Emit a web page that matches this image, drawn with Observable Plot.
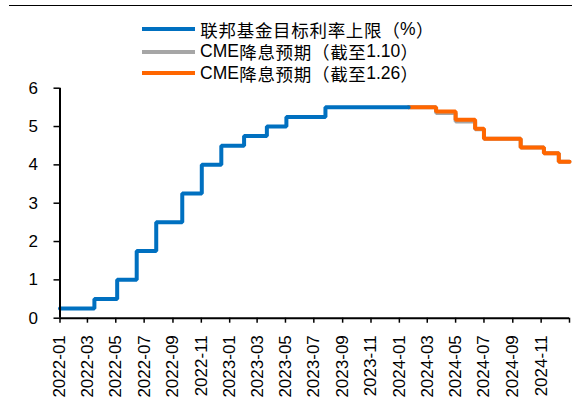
<!DOCTYPE html>
<html><head><meta charset="utf-8">
<script src="https://cdn.jsdelivr.net/npm/d3@7"></script>
<script src="https://cdn.jsdelivr.net/npm/@observablehq/plot@0.6"></script>
<style>
body{margin:0;background:#fff;}
#wrap{position:relative;width:574px;height:398px;font-family:"Liberation Sans",Arial,"Noto Sans CJK SC",sans-serif;}
#topline{position:absolute;left:9px;top:5px;width:563px;height:0;border-top:1.5px solid #000;}
#legend{position:relative;width:574px;height:80px;}
.row{position:absolute;left:142px;display:flex;align-items:center;font-size:17.5px;line-height:1;color:#000;height:18px;white-space:nowrap;}
.sw{width:53px;height:4px;margin-right:5px;flex:none;}
.lab{display:flex;align-items:center;line-height:1;}
.cj{display:inline-block;width:18.2px;text-align:center;line-height:1;font-family:"Noto Sans CJK SC",sans-serif;}
.pn{display:inline-block;width:18.2px;text-align:center;line-height:1;font-family:"Noto Sans CJK SC",sans-serif;text-spacing-trim:space-all;font-feature-settings:"halt" 0,"chws" 0,"palt" 0;}
.lt{display:inline-block;line-height:1;}
#chart svg{display:block;}
</style></head>
<body>
<div id="wrap">
  <div id="legend"><div id="topline"></div></div>
  <div id="chart"></div>
</div>
<script>
// ---- data ----
const seriesNames = ["\u8054\u90A6\u57FA\u91D1\u76EE\u6807\u5229\u7387\u4E0A\u9650\uFF08%\uFF09", "CME\u964D\u606F\u9884\u671F\uFF08\u622A\u81F31.10\uFF09", "CME\u964D\u606F\u9884\u671F\uFF08\u622A\u81F31.26\uFF09"];
const seriesColors = ["#0070C0", "#A6A6A6", "#FF6600"];

const fedDates  = ["2022-01-01","2022-03-16","2022-05-04","2022-06-15","2022-07-27","2022-09-21","2022-11-02","2022-12-14","2023-02-01","2023-03-22","2023-05-03","2023-07-26","2024-01-21"];
const fedValues = [0.25, 0.5, 1.0, 1.75, 2.5, 3.25, 4.0, 4.5, 4.75, 5.0, 5.25, 5.5, 5.5];

const cmeDates      = ["2024-01-21","2024-03-20","2024-05-01","2024-06-12","2024-07-01","2024-09-18","2024-11-07","2024-12-09","2025-01-01"];
const cme0110Values = [5.5, 5.35, 5.13, 4.93, 4.68, 4.45, 4.30, 4.08, 4.08];
const cme0126Values = [5.5, 5.39, 5.18, 4.94, 4.68, 4.45, 4.30, 4.08, 4.08];

const xTickDates  = ["2022-01-01","2022-03-01","2022-05-01","2022-07-01","2022-09-01","2022-11-01","2023-01-01","2023-03-01","2023-05-01","2023-07-01","2023-09-01","2023-11-01","2024-01-01","2024-03-01","2024-05-01","2024-07-01","2024-09-01","2024-11-01","2025-01-01"];
const xTickLabels = ["2022-01","2022-03","2022-05","2022-07","2022-09","2022-11","2023-01","2023-03","2023-05","2023-07","2023-09","2023-11","2024-01","2024-03","2024-05","2024-07","2024-09","2024-11",""];
const yTicks = [0, 1, 2, 3, 4, 5, 6];
const xDomain = ["2022-01-01", "2025-01-01"];
const yDomain = [0, 6];

// ---- build ----
const toRows = (ds, vs) => ds.map((d, i) => ({date: new Date(d + "T00:00:00Z"), value: vs[i]}));
const fed = toRows(fedDates, fedValues);
const cme1 = toRows(cmeDates, cme0110Values);
const cme2 = toRows(cmeDates, cme0126Values);
const tickDates = xTickDates.map(d => new Date(d + "T00:00:00Z"));
const labelOf = new Map(tickDates.map((d, i) => [+d, xTickLabels[i]]));

// legend
const legend = document.getElementById("legend");
const rowCenters = [29.3, 51.7, 73.3];
seriesNames.forEach((name, i) => {
  const r = document.createElement("div");
  r.className = "row";
  r.style.top = (rowCenters[i] - 9) + "px";
  const sw = document.createElement("div");
  sw.className = "sw";
  sw.style.background = seriesColors[i];
  const t = document.createElement("div");
  t.className = "lab";
  let latin = "";
  const flush = () => { if (latin) { const s = document.createElement("span"); s.className = "lt"; s.textContent = latin; t.appendChild(s); latin = ""; } };
  for (const ch of name) {
    const code = ch.codePointAt(0);
    if (code === 0xFF08 || code === 0xFF09) {
      flush();
      const p = document.createElement("span");
      p.className = "pn";
      p.textContent = ch;
      t.appendChild(p);
    } else if (code >= 0x3000) {
      flush();
      const p = document.createElement("span");
      p.className = "cj";
      p.textContent = ch;
      t.appendChild(p);
    } else {
      latin += ch;
    }
  }
  flush();
  r.appendChild(sw); r.appendChild(t);
  legend.appendChild(r);
});

const chart = Plot.plot({
  width: 574,
  height: 318,
  marginTop: 7.7,
  marginBottom: 80.3,
  marginLeft: 59.5,
  marginRight: 5,
  style: {fontFamily: '"Liberation Sans", Arial, sans-serif', fontSize: "17px", color: "#000", background: "#fff", overflow: "visible"},
  x: {type: "utc", domain: xDomain.map(d => new Date(d + "T00:00:00Z"))},
  y: {domain: yDomain},
  marks: [
    Plot.line(cme1, {x: "date", y: "value", curve: "step-after", stroke: seriesColors[1], strokeWidth: 4, strokeLinejoin: "miter"}),
    Plot.line(cme2, {x: "date", y: "value", curve: "step-after", stroke: seriesColors[2], strokeWidth: 4, strokeLinejoin: "miter"}),
    Plot.line(fed,  {x: "date", y: "value", curve: "step-after", stroke: seriesColors[0], strokeWidth: 4, strokeLinejoin: "miter"}),
    Plot.axisY({ticks: yTicks, tickSize: 6, tickPadding: 16, strokeWidth: 1.5, label: null, tickFormat: d => String(d)}),
    Plot.axisX({ticks: tickDates, tickSize: 5, tickPadding: 12, tickRotate: -90, strokeWidth: 1.5, label: null, tickFormat: d => labelOf.get(+d) ?? ""}),
    Plot.ruleY([yDomain[0]], {stroke: "#000", strokeWidth: 2}),
    Plot.ruleX([new Date(xDomain[0] + "T00:00:00Z")], {stroke: "#000", strokeWidth: 2})
  ]
});
document.getElementById("chart").appendChild(chart);
</script>
</body></html>
